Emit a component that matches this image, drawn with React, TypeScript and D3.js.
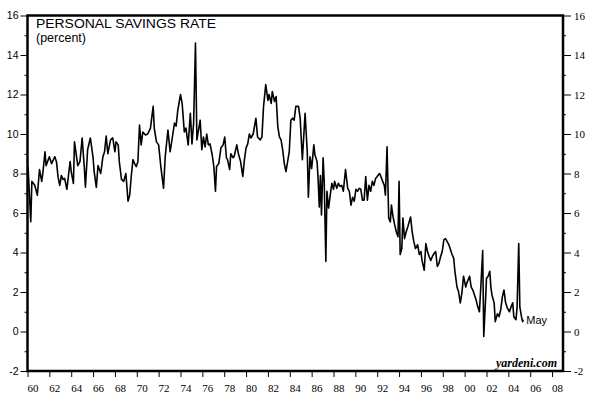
import * as d3 from "d3";
import {useEffect, useRef} from "react";

// personal savings rate (decimal year, percent)
const years = [
  1960.05, 1960.3, 1960.4, 1960.67, 1960.9, 1961.1, 1961.3, 1961.4, 1961.6, 1961.7,
  1962.0, 1962.2, 1962.5, 1962.65, 1962.8, 1962.95, 1963.1, 1963.25, 1963.4, 1963.6,
  1963.9, 1964.0, 1964.2, 1964.3, 1964.6, 1964.8, 1965.0, 1965.2, 1965.3, 1965.5,
  1965.75, 1966.0, 1966.1, 1966.3, 1966.45, 1966.7, 1966.9, 1967.05, 1967.2, 1967.35,
  1967.6, 1967.8, 1968.0, 1968.1, 1968.3, 1968.4, 1968.6, 1968.8, 1969.0, 1969.2,
  1969.35, 1969.5, 1969.65, 1969.8, 1969.95, 1970.1, 1970.25, 1970.4, 1970.55, 1970.8,
  1971.0, 1971.25, 1971.5, 1971.6, 1971.8, 1972.0,
  1972.2, 1972.45, 1972.6, 1972.85, 1973.05, 1973.3, 1973.45, 1973.6, 1973.75, 1974.0,
  1974.15, 1974.35, 1974.5, 1974.7, 1974.9, 1975.05, 1975.2, 1975.37, 1975.5, 1975.65,
  1975.8, 1975.95, 1976.1, 1976.25, 1976.4, 1976.55, 1976.7, 1976.9, 1977.05, 1977.2,
  1977.3, 1977.5, 1977.7, 1977.9, 1978.05, 1978.2, 1978.3, 1978.5, 1978.6, 1978.8,
  1978.9, 1979.15, 1979.3, 1979.5, 1979.7, 1979.85, 1980.0, 1980.15, 1980.3, 1980.45,
  1980.65, 1980.9, 1981.05, 1981.3, 1981.45, 1981.6, 1981.8, 1982.0, 1982.1, 1982.3,
  1982.4, 1982.6, 1982.75, 1982.9, 1983.05, 1983.2, 1983.35, 1983.5, 1983.65, 1983.8,
  1983.95, 1984.1, 1984.25, 1984.4,
  1984.55, 1984.8, 1984.95, 1985.15, 1985.4, 1985.6, 1985.7, 1985.85, 1986.0, 1986.2,
  1986.3, 1986.5, 1986.6, 1986.7, 1986.8, 1986.9, 1987.05, 1987.15, 1987.3, 1987.4,
  1987.55, 1987.7, 1987.85, 1988.0, 1988.1, 1988.3, 1988.45, 1988.6, 1988.75, 1988.9,
  1989.1, 1989.3, 1989.45, 1989.6, 1989.75, 1989.9, 1990.05, 1990.2, 1990.35, 1990.5,
  1990.65, 1990.8, 1990.95, 1991.1, 1991.25, 1991.4, 1991.55, 1991.7, 1991.85, 1992.0,
  1992.2, 1992.3, 1992.5, 1992.65, 1992.75, 1992.9, 1993.05, 1993.2, 1993.3, 1993.45,
  1993.6, 1993.75, 1993.9, 1994.0, 1994.1, 1994.25, 1994.35, 1994.5, 1994.65, 1994.8,
  1995.05, 1995.2, 1995.35, 1995.5, 1995.7, 1995.85, 1996.0, 1996.1, 1996.3,
  1996.45, 1996.6, 1996.75, 1996.9, 1997.05, 1997.2, 1997.35, 1997.5, 1997.65, 1997.8,
  1997.95, 1998.1, 1998.25, 1998.4, 1998.55, 1998.7, 1998.85, 1999.0, 1999.1, 1999.3,
  1999.45, 1999.6, 1999.75, 1999.9, 2000.1, 2000.2, 2000.45, 2000.6, 2000.75, 2000.9,
  2001.05, 2001.2, 2001.35, 2001.5, 2001.65, 2001.75, 2001.9, 2002.0, 2002.15, 2002.3,
  2002.4, 2002.5, 2002.7, 2002.8, 2003.0, 2003.15, 2003.3, 2003.45, 2003.6, 2003.75,
  2003.9, 2004.1, 2004.25, 2004.4, 2004.5, 2004.7, 2004.8, 2004.95, 2005.05, 2005.2,
  2005.3, 2005.37
];
const rates = [
  8.35, 5.56, 7.6, 7.4, 6.9, 8.2, 7.6, 8.0, 9.1, 8.4,
  8.85, 8.5, 8.85, 8.6, 7.8, 7.4, 7.9, 7.7, 7.75, 7.2,
  8.6, 8.1, 7.5, 9.6, 8.4, 8.6, 9.8, 8.3, 7.3, 9.2,
  9.8, 8.8, 8.1, 7.3, 8.4, 8.0, 8.85, 9.1, 9.9, 9.0,
  9.7, 9.8, 9.1, 9.6, 9.45, 8.6, 7.7, 7.6, 8.0, 6.6,
  6.9, 7.9, 8.7, 8.5, 8.35, 8.6, 10.45, 9.45, 10.1, 9.95,
  10.0, 10.3, 11.4, 10.3, 9.6, 9.45,
  8.35, 7.25, 8.85, 10.2, 9.1, 10.0, 10.55, 10.4, 11.2, 12.0,
  11.55, 10.1, 10.3, 9.45, 11.05, 9.5, 10.55, 14.6, 9.7, 10.2,
  10.7, 9.2, 9.85, 9.35, 10.0, 9.45, 9.5, 8.95, 8.35, 7.1,
  8.35, 8.5, 9.3, 9.45, 9.85, 8.8, 8.7, 8.2, 9.0, 8.8,
  8.85, 9.45, 9.0, 8.6, 7.85, 8.7, 9.3, 9.5, 10.0, 9.8,
  10.0, 10.8, 9.85, 9.7, 9.85, 11.4, 12.5, 11.7, 12.0, 11.55,
  12.15, 11.65, 11.9, 10.4, 9.85, 9.7, 9.2, 8.5, 8.1, 8.6,
  9.1, 10.7, 10.8, 10.7,
  11.4, 11.4, 10.8, 8.7, 11.05, 9.1, 6.8, 8.85, 8.25, 9.45,
  8.95, 8.6, 7.6, 6.3, 7.9, 5.9, 8.8, 7.6, 3.55, 7.1,
  6.25, 6.9, 7.5, 7.2, 7.6, 7.25, 7.5, 7.35, 7.4, 7.1,
  8.2, 7.25, 7.1, 6.4, 6.8, 6.6, 7.2, 7.1, 7.25, 7.2,
  6.65, 6.65, 7.85, 6.65, 7.4, 7.1, 7.6, 7.4, 7.75, 7.85,
  8.0, 7.9, 7.6, 7.4, 6.9, 9.35, 5.75, 5.55, 6.4, 5.8,
  5.4, 5.05, 4.8, 7.6, 3.9, 4.2, 5.75, 4.7, 5.05, 5.3,
  5.8, 5.05, 4.55, 4.2, 4.4, 3.9, 4.05, 3.6, 3.1,
  4.45, 4.05, 3.8, 3.6, 3.8, 3.95, 4.05, 3.3, 3.45, 3.8,
  4.05, 4.65, 4.7, 4.55, 4.4, 4.15, 3.9, 3.7, 3.1, 2.25,
  2.0, 1.45, 1.95, 2.8, 2.25, 2.45, 2.8, 2.25, 2.1, 1.85,
  1.6, 1.25, 1.0, 2.45, 4.1, -0.25, 1.45, 2.7, 2.8, 3.05,
  2.25, 1.85, 1.45, 0.5, 0.9, 0.75, 1.1, 1.75, 2.1, 1.45,
  1.2, 1.0, 1.25, 1.45, 0.75, 0.6, 1.25, 4.45, 1.25, 0.75,
  0.5, 0.6
];

const yTicks = [-2, 0, 2, 4, 6, 8, 10, 12, 14, 16];
const yMinorTicks = [-1, 1, 3, 5, 7, 9, 11, 13, 15];
const xTicks = [1960, 1962, 1964, 1966, 1968, 1970, 1972, 1974, 1976, 1978, 1980, 1982,
  1984, 1986, 1988, 1990, 1992, 1994, 1996, 1998, 2000, 2002, 2004, 2006, 2008];
const xTickLabels = ["60", "62", "64", "66", "68", "70", "72", "74", "76", "78", "80", "82",
  "84", "86", "88", "90", "92", "94", "96", "98", "00", "02", "04", "06", "08"];

const title = "PERSONAL SAVINGS RATE";
const unitLabel = "(percent)";
const lastLabel = "May";
const source = "yardeni.com";

const sans = "'Liberation Sans', Arial, sans-serif";
const serif = "'Liberation Serif', 'Times New Roman', serif";

function App() {
  const ref = useRef<SVGSVGElement>(null);

  useEffect(() => {
    const svg = d3.select(ref.current);
    svg.selectAll("*").remove();

    // plot frame
    const left = 27.5, right = 563, top = 15.5, bottom = 371;

    const x = d3.scaleLinear().domain([1960, 2009]).range([left, right]);
    const y = d3.scaleLinear().domain([-2, 16]).range([bottom, top]);

    // left axis (sans labels), minor ticks in their own group
    const gl = svg.append("g").attr("transform", `translate(${left},0)`);
    gl.call(d3.axisLeft(y).tickValues(yTicks).tickSize(7).tickPadding(2)
      .tickFormat(d => String(d)));
    gl.selectAll("text").attr("font-family", sans).attr("font-size", 10.5).attr("fill", "#000");
    svg.append("g").attr("transform", `translate(${left},0)`)
      .call(d3.axisLeft(y).tickValues(yMinorTicks).tickSize(3).tickFormat(() => ""));

    // right axis (serif labels)
    const gr = svg.append("g").attr("transform", `translate(${right},0)`);
    gr.call(d3.axisRight(y).tickValues(yTicks).tickSize(8).tickPadding(3)
      .tickFormat(d => String(d)));
    gr.selectAll("text").attr("font-family", serif).attr("font-size", 11).attr("fill", "#000");
    svg.append("g").attr("transform", `translate(${right},0)`)
      .call(d3.axisRight(y).tickValues(yMinorTicks).tickSize(3).tickFormat(() => ""));

    // bottom axis: ticks at start of year, labels at mid-year
    svg.append("g").attr("transform", `translate(0,${bottom})`)
      .call(d3.axisBottom(x).tickValues(xTicks).tickSize(6).tickFormat(() => ""));
    svg.append("g")
      .selectAll("text")
      .data(xTicks)
      .enter()
      .append("text")
        .attr("x", d => x(d + 0.5))
        .attr("y", bottom + 20.5)
        .attr("text-anchor", "middle")
        .attr("font-family", serif)
        .attr("font-size", 11)
        .attr("fill", "#000")
        .text((d, i) => xTickLabels[i]);

    svg.selectAll(".domain").remove();
    svg.selectAll(".tick line").attr("stroke", "#000").attr("stroke-width", 1);

    // series
    const data = years.map((yr, i) => ({yr, v: rates[i]}));
    const line = d3.line<{yr: number, v: number}>()
      .x(d => x(d.yr))
      .y(d => y(d.v));
    svg.append("path")
      .datum(data)
      .attr("d", line)
      .attr("fill", "none")
      .attr("stroke", "#000")
      .attr("stroke-width", 1.6)
      .attr("stroke-linejoin", "round");

    // frame
    svg.append("rect")
      .attr("x", left).attr("y", top)
      .attr("width", right - left).attr("height", bottom - top)
      .attr("fill", "none")
      .attr("stroke", "#000")
      .attr("stroke-width", 2.5);

    // texts
    svg.append("text")
      .attr("x", 36).attr("y", 28)
      .attr("font-family", sans).attr("font-size", 12)
      .attr("textLength", 180).attr("lengthAdjust", "spacingAndGlyphs")
      .text(title);
    svg.append("text")
      .attr("x", 36).attr("y", 42)
      .attr("font-family", sans).attr("font-size", 12)
      .attr("textLength", 50).attr("lengthAdjust", "spacingAndGlyphs")
      .text(unitLabel);

    const last = data[data.length - 1];
    svg.append("text")
      .attr("x", x(last.yr) + 3).attr("y", y(last.v) + 4)
      .attr("font-family", sans).attr("font-size", 11)
      .text(lastLabel);

    svg.append("text")
      .attr("x", 557).attr("y", 367)
      .attr("text-anchor", "end")
      .attr("font-family", serif).attr("font-size", 12)
      .attr("font-weight", "bold").attr("font-style", "italic")
      .text(source);
  }, []);

  return (
    <svg ref={ref} width={600} height={398}
      style={{position: "absolute", left: 0, top: 0, background: "#fff"}} />
  );
}

export default App;
